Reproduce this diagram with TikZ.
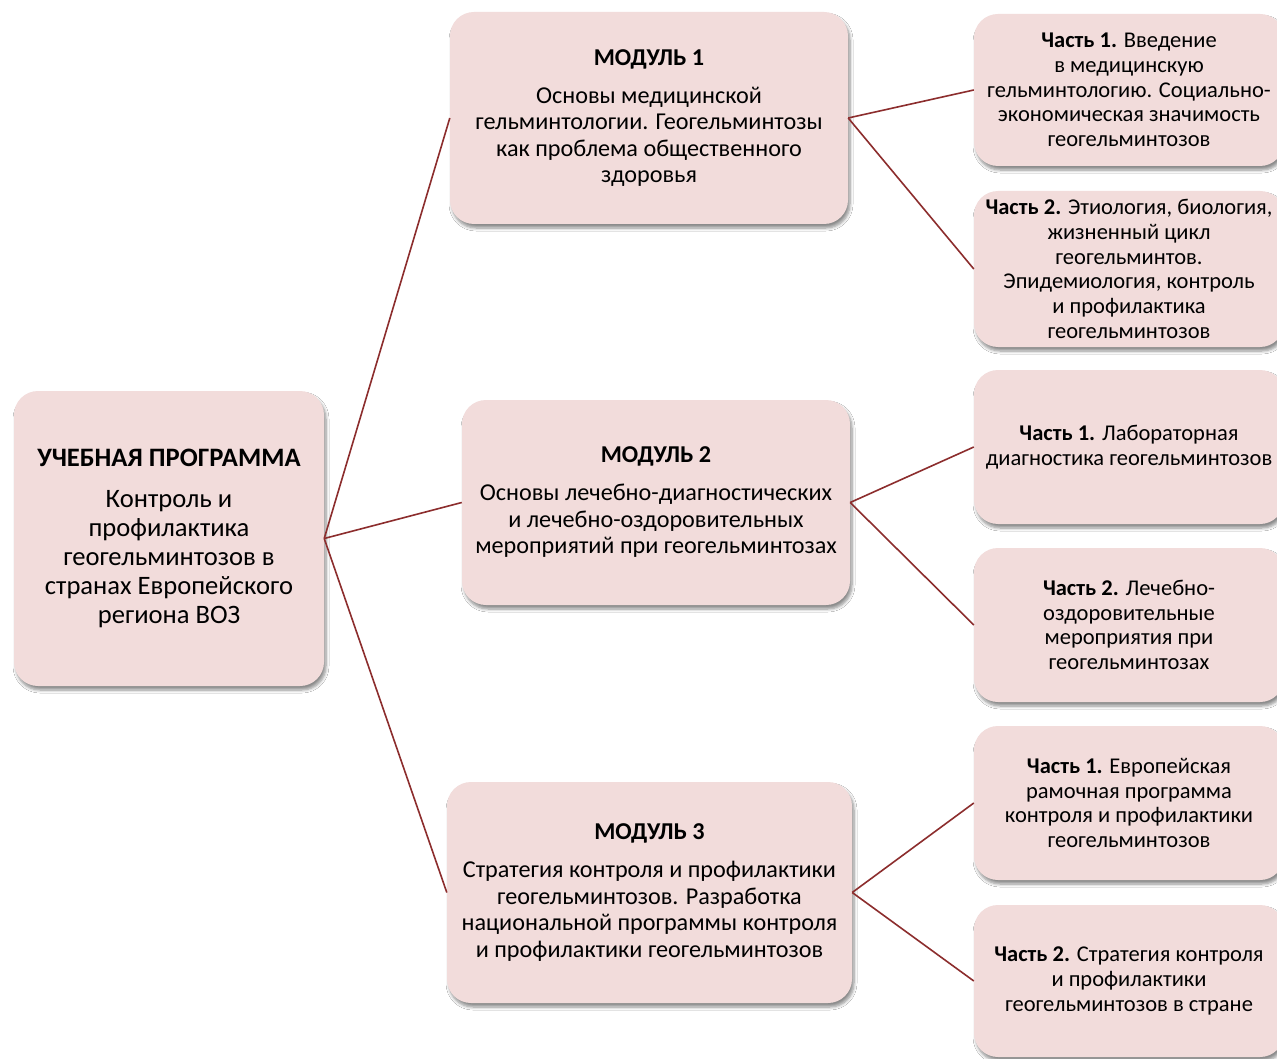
\documentclass[tikz,border=0pt]{standalone}
\usepackage{fontspec}
\setmainfont{Carlito}
\usetikzlibrary{shadows.blur}
\definecolor{boxfill}{RGB}{242,220,219}
\definecolor{linkred}{RGB}{140,45,45}
\tikzset{
  box/.style={rectangle, rounded corners=24pt, fill=boxfill, draw=none, inner sep=0pt,
    align=center, text=black,
    blur shadow={shadow xshift=2pt, shadow yshift=-4pt, shadow blur steps=6, shadow blur radius=3pt, shadow opacity=45}},
  rootbox/.style={box, font=\fontsize{26.6}{29}\selectfont},
  modbox/.style={box, font=\fontsize{24.2}{26.5}\selectfont},
  partbox/.style={box, font=\fontsize{22.5}{24.7}\selectfont, minimum width=310pt},
  link/.style={draw=linkred, line width=1.6pt}
}
\begin{document}
\begin{tikzpicture}[x=1pt,y=-1pt]
\useasboundingbox (0,0) rectangle (1277,1059);
\fill[white] (0,0) rectangle (1277,1059);

\node[rootbox, minimum width=310pt, minimum height=295pt] (root) at (169,538.5)
  {\textbf{УЧЕБНАЯ ПРОГРАММА}\\[12pt]Контроль и\\профилактика\\геогельминтозов в\\странах Европейского\\региона ВОЗ};

\node[modbox, minimum width=398pt, minimum height=212pt] (m1) at (649,118)
  {\textbf{МОДУЛЬ 1}\\[11.5pt]Основы медицинской\\гельминтологии. Геогельминтозы\\как проблема общественного\\здоровья};
\node[modbox, minimum width=388pt, minimum height=205pt] (m2) at (656,502.5)
  {\textbf{МОДУЛЬ 2}\\[11.5pt]Основы лечебно-диагностических\\и лечебно-оздоровительных\\мероприятий при геогельминтозах};
\node[modbox, minimum width=405pt, minimum height=221pt] (m3) at (649.5,892.5)
  {\textbf{МОДУЛЬ 3}\\[11.5pt]Стратегия контроля и профилактики\\геогельминтозов. Разработка\\национальной программы контроля\\и профилактики геогельминтозов};

\node[partbox, minimum height=152pt] (p1a) at (1129,90)
  {\textbf{Часть 1.} Введение\\в медицинскую\\гельминтологию. Социально-\\экономическая значимость\\геогельминтозов};
\node[partbox, minimum height=156pt] (p1b) at (1129,269)
  {\textbf{Часть 2.} Этиология, биология,\\жизненный цикл\\геогельминтов.\\Эпидемиология, контроль\\и профилактика\\геогельминтозов};
\node[partbox, minimum height=154pt] (p2a) at (1129,447)
  {\textbf{Часть 1.} Лабораторная\\диагностика геогельминтозов};
\node[partbox, minimum height=154pt] (p2b) at (1129,625)
  {\textbf{Часть 2.} Лечебно-\\оздоровительные\\мероприятия при\\геогельминтозах};
\node[partbox, minimum height=154pt] (p3a) at (1129,803)
  {\textbf{Часть 1.} Европейская\\рамочная программа\\контроля и профилактики\\геогельминтозов};
\node[partbox, minimum height=152pt] (p3b) at (1129,981)
  {\textbf{Часть 2.} Стратегия контроля\\и профилактики\\геогельминтозов в стране};

\draw[link] (root.east) -- (m1.west);
\draw[link] (root.east) -- (m2.west);
\draw[link] (root.east) -- (m3.west);
\draw[link] (m1.east) -- (p1a.west);
\draw[link] (m1.east) -- (p1b.west);
\draw[link] (m2.east) -- (p2a.west);
\draw[link] (m2.east) -- (p2b.west);
\draw[link] (m3.east) -- (p3a.west);
\draw[link] (m3.east) -- (p3b.west);
\end{tikzpicture}
\end{document}
